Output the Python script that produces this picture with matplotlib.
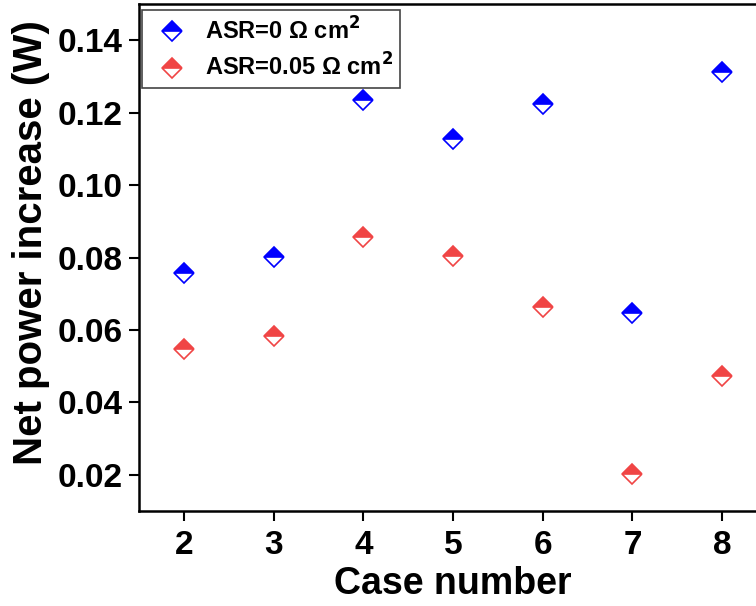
import numpy as np
import matplotlib
matplotlib.use("Agg")
import matplotlib.pyplot as plt

plt.rcParams['font.family'] = ['Liberation Sans', 'DejaVu Sans']
plt.rcParams['font.weight'] = 'bold'

cases = [2, 3, 4, 5, 6, 7, 8]
asr_0 = [0.0758, 0.0802, 0.1236, 0.1126, 0.1224, 0.0648, 0.1311]
asr_005 = [0.0547, 0.0583, 0.0857, 0.0803, 0.0664, 0.0203, 0.0473]
labels = ['ASR=0 \u03a9 cm$^{\\mathbf{2}}$', 'ASR=0.05 \u03a9 cm$^{\\mathbf{2}}$']

blue = '#0000FF'
red = '#F04545'

fig = plt.figure(figsize=(7.56, 6.06), dpi=100)
ax = fig.add_axes([139 / 756, 1 - 511 / 606, 628 / 756, 507 / 606])

for vals, c, lab in [(asr_0, blue, labels[0]), (asr_005, red, labels[1])]:
    ax.plot(cases, vals, linestyle='none', marker='D', markersize=10.5,
            fillstyle='top', markerfacecolor=c, markerfacecoloralt='white',
            markeredgecolor=c, markeredgewidth=1.2, label=lab)

ax.set_xlim(1.5, 8.5)
ax.set_ylim(0.01, 0.15)
ax.set_xticks(cases)
ax.set_yticks([0.02, 0.04, 0.06, 0.08, 0.10, 0.12, 0.14])
ax.set_yticklabels(['0.02', '0.04', '0.06', '0.08', '0.10', '0.12', '0.14'])
ax.tick_params(direction='out', length=7, width=1.5, labelsize=24, top=False, right=False)
ax.tick_params(axis='x', pad=7)
ax.tick_params(axis='y', pad=5)
for s in ax.spines.values():
    s.set_linewidth(1.8)

ax.set_xlabel('Case number', fontsize=27, fontweight='bold', labelpad=3)
ax.set_ylabel('Net power increase (W)', fontsize=29, fontweight='bold')
ax.yaxis.set_label_coords(-0.142, 0.529)

leg = ax.legend(loc='upper left', bbox_to_anchor=(3 / 628, 1 - 6 / 507), borderaxespad=0,
                fontsize=17, frameon=True, fancybox=False, edgecolor='#444444',
                framealpha=1, handletextpad=0.45, borderpad=0.3, labelspacing=0.4,
                handlelength=1.9)
leg.get_frame().set_linewidth(1.2)

fig.savefig('out.png', dpi=100)
